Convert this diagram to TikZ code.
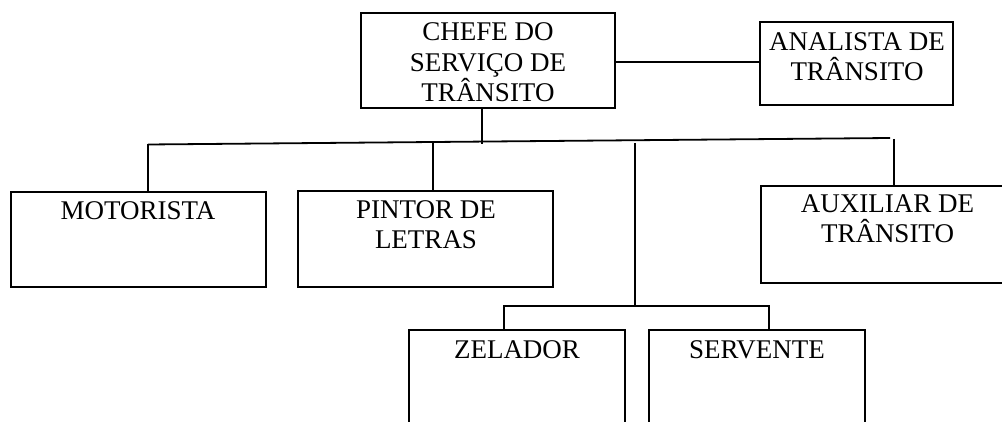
\documentclass[tikz,border=0pt]{standalone}
\usepackage{fontspec}
\setmainfont{Liberation Serif}
\begin{document}
\begin{tikzpicture}[x=1pt,y=-1pt,
  box/.style={draw, line width=1.8pt, rectangle, inner sep=0pt},
  lbl/.style={font=\fontsize{27}{30.5}\selectfont, align=center, inner sep=0pt, anchor=base},
  conn/.style={line width=1.8pt}]
\path[use as bounding box, clip] (0,0) rectangle (1002,422);
% boxes
\node[box, minimum width=254pt, minimum height=95pt] (chefe) at (488,60.5) {};
\node[box, minimum width=193pt, minimum height=83pt] (analista) at (856.5,63.5) {};
\node[box, minimum width=255pt, minimum height=95pt] (motorista) at (138.5,239.5) {};
\node[box, minimum width=255pt, minimum height=96pt] (pintor) at (425.5,239) {};
\node[box, minimum width=253pt, minimum height=97pt] (auxiliar) at (887.5,234.5) {};
\node[box, minimum width=216pt, minimum height=120pt] (zelador) at (517,390) {};
\node[box, minimum width=216pt, minimum height=120pt] (servente) at (757,390) {};
% texts (base = baseline of the last line)
\node[lbl] (tchefe) at (488,102) {CHEFE DO\\SERVIÇO DE\\TRÂNSITO};
\node[lbl] (tanalista) at (857,81) {ANALISTA DE\\TRÂNSITO};
\node[lbl] (tmotorista) at (138,220) {MOTORISTA};
\node[lbl] (tpintor) at (426,249) {PINTOR DE\\LETRAS};
\node[lbl] (tauxiliar) at (887.5,243) {AUXILIAR DE\\TRÂNSITO};
\node[lbl] (tzelador) at (517,358) {ZELADOR};
\node[lbl] (tservente) at (757,358) {SERVENTE};
% junctions
\coordinate (ca) at (0,62);
\coordinate (j0) at (482,144);
\coordinate (hl) at (148,144.5);
\coordinate (hr) at (890,138);
\coordinate (pj) at (433,143);
\coordinate (mj) at (635,143);
\coordinate (mb) at (635,306);
\coordinate (bl) at (504,306);
\coordinate (br) at (769,306);
\coordinate (aj) at (894,139);
% connectors
\draw[conn] (chefe.east |- ca) -- (analista.west |- ca);
\draw[conn] (chefe.south -| j0) -- (j0);
\draw[conn] (hl) -- (hr);
\draw[conn] (hl) -- (hl |- motorista.north);
\draw[conn] (pj) -- (pj |- pintor.north);
\draw[conn] (aj) -- (aj |- auxiliar.north);
\draw[conn] (mj) -- (mb);
\draw[conn] (bl |- zelador.north) -- (bl) -- (br) -- (br |- servente.north);
\end{tikzpicture}
\end{document}
